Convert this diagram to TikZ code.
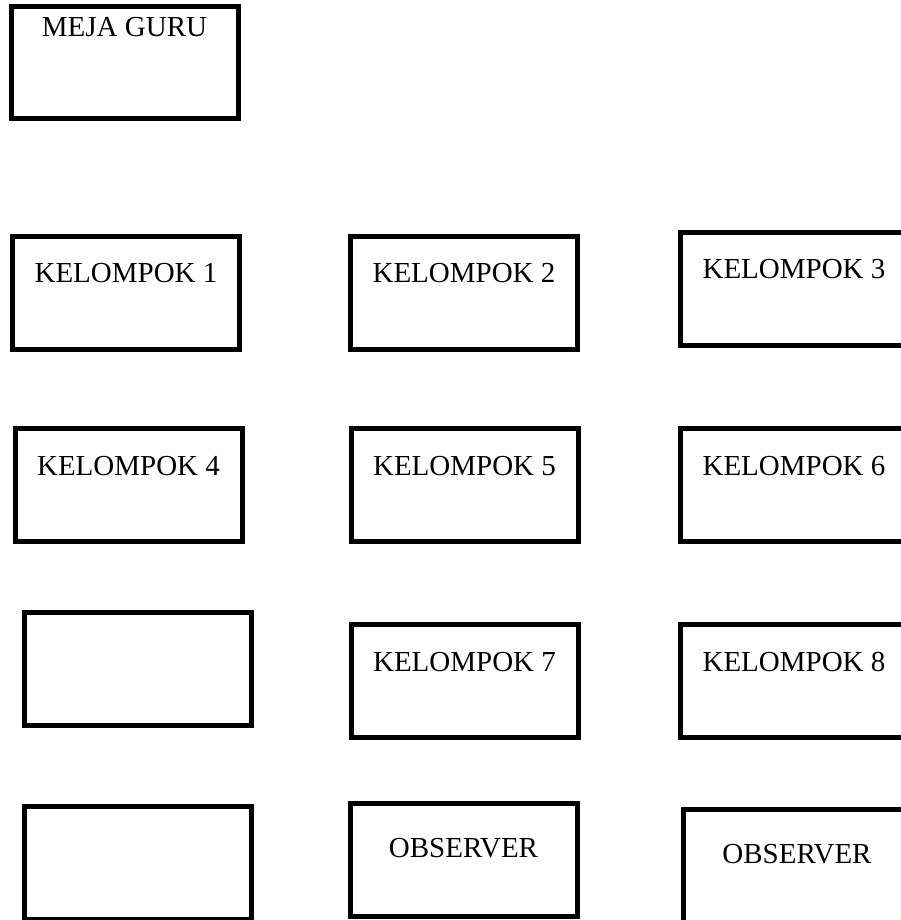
\documentclass[tikz,border=0pt]{standalone}
\usepackage{fontspec}
\setmainfont{Liberation Serif}
\usepackage{tikz}
\usetikzlibrary{positioning}

\begin{document}
\begin{tikzpicture}[
			meja/.style={
				draw=black, fill=white, line width=0.1cm,
				minimum width=4.54cm, inner sep=0pt,
				text height=0.93cm, text depth=1.33cm,
				font=\fontsize{16.5}{18}\selectfont
			},
			guru/.style={
				meja, text height=0.61cm, text depth=1.63cm
			},
			pengamat/.style={
				meja, text height=1.07cm, text depth=1.19cm
			}
			]
			
			\useasboundingbox (0,0) rectangle (18,-18.4);
			
			\node[guru] (guru) at (2.49,-1.25) {MEJA GURU};
			
			\node[meja] (k1) at (2.52,-5.86) {KELOMPOK 1};
			\node[meja] (k2) at (9.28,-5.86) {KELOMPOK 2};
			\node[meja] (k3) at (15.88,-5.78) {KELOMPOK 3};
			
			\node[meja] (k4) at (2.57,-9.70) {KELOMPOK 4};
			\node[meja] (k5) at (9.29,-9.70) {KELOMPOK 5};
			\node[meja] (k6) at (15.88,-9.70) {KELOMPOK 6};
			
			\node[meja] (kosong1) at (2.76,-13.38) {};
			\node[meja] (k7) at (9.29,-13.62) {KELOMPOK 7};
			\node[meja] (k8) at (15.88,-13.62) {KELOMPOK 8};
			
			\node[meja] (kosong2) at (2.76,-17.26) {};
			\node[pengamat] (obs1) at (9.27,-17.20) {OBSERVER};
			\node[pengamat] (obs2) at (15.94,-17.32) {OBSERVER};
			
		\end{tikzpicture}
\end{document}
